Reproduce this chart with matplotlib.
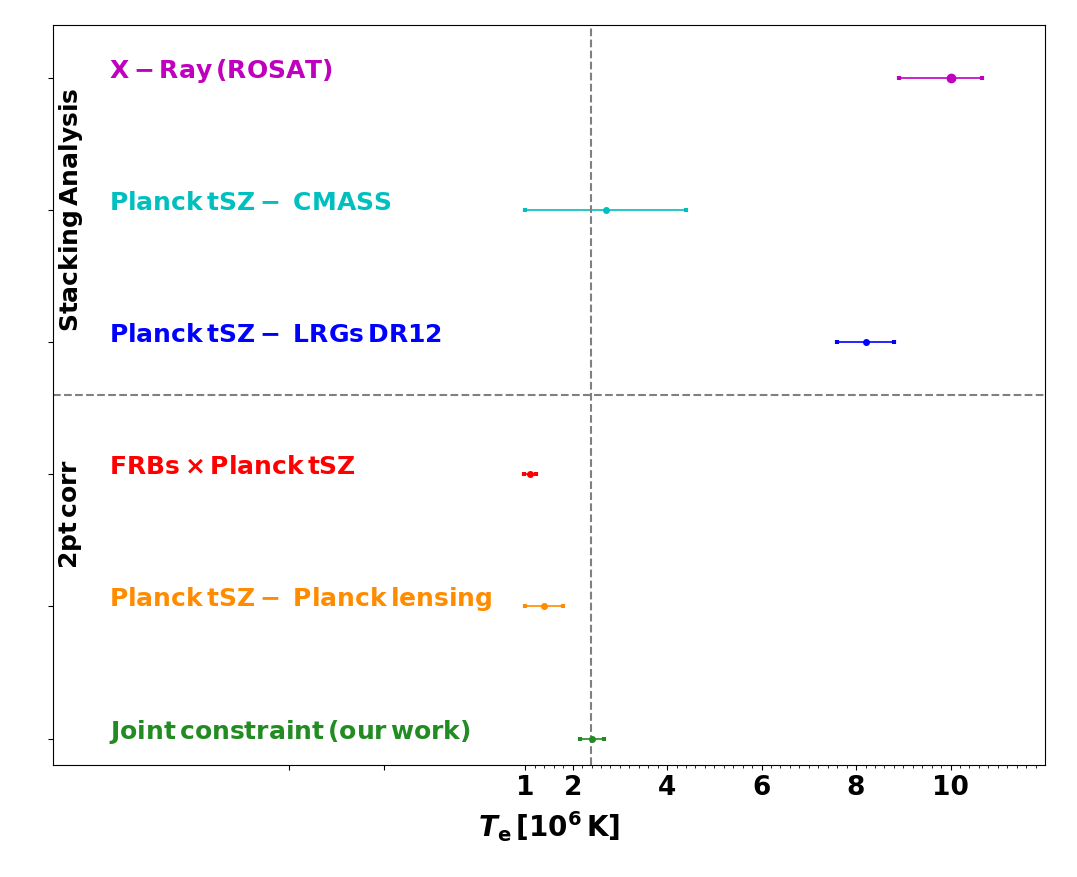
import numpy as np
import matplotlib
matplotlib.use('Agg')
import matplotlib.pyplot as plt

# Electron temperature constraints, in 10^6 K
labels = [r'$\mathbf{Joint\,constraint\,(our\,work)}$',
          r'$\mathbf{Planck\,tSZ-\ Planck\,lensing}$',
          r'$\mathbf{FRBs\times Planck\,tSZ}$',
          r'$\mathbf{Planck\,tSZ-\ LRGs\,DR12}$',
          r'$\mathbf{Planck\,tSZ-\ CMASS}$',
          r'$\mathbf{X-Ray\,(ROSAT)}$']
colors = ['forestgreen', 'darkorange', 'r', 'b', 'c', 'm']
rows = [0, 1, 2, 3, 4, 5]
te = [2.4, 1.4, 1.1, 8.2, 2.7, 10.0]
err_lo = [0.25, 0.4, 0.13, 0.6, 1.7, 1.1]
err_hi = [0.27, 0.4, 0.13, 0.6, 1.7, 0.66]
marker_sizes = [4, 4, 4, 4, 4, 6]

joint_te = 2.39
split_row = 2.6

xticks = [-4, -2, 1, 2, 4, 6, 8, 10]
xtick_labels = ['', '', '1', '2', '4', '6', '8', '10']

fig = plt.figure(figsize=(10.77, 8.77), dpi=100)
ax = fig.add_axes([0.0492, 0.1277, 0.9211, 0.8438])

for i in range(len(rows)):
    ax.errorbar(te[i], rows[i], xerr=[[err_lo[i]], [err_hi[i]]], fmt='o',
                color=colors[i], ms=marker_sizes[i], elinewidth=1.2,
                capsize=1.5, capthick=3)
    ax.text(-7.81, rows[i], labels[i], color=colors[i], fontsize=18)

ax.axvline(joint_te, color='gray', ls='--', lw=1.5)
ax.axhline(split_row, color='gray', ls='--', lw=1.5)

ax.text(0.018, 4.0, r'$\mathbf{Stacking\,Analysis}$', rotation=90,
        ha='center', va='center', fontsize=18,
        transform=ax.get_yaxis_transform())
ax.text(0.018, 1.7, r'$\mathbf{2pt\,corr}$', rotation=90,
        ha='center', va='center', fontsize=18,
        transform=ax.get_yaxis_transform())

ax.set_xlim(-9, 12)
ax.set_ylim(-0.2, 5.4)
ax.set_xticks(xticks)
ax.set_xticklabels(xtick_labels, fontsize=19, fontweight='bold')
ax.set_xticks(np.arange(1, 12, 0.2), minor=True)
ax.set_yticks(rows)
ax.set_yticklabels([])
ax.set_xlabel(r'$\mathbfit{T}_\mathbf{e}\,\mathbf{[10^6\,K]}$', fontsize=20,
              labelpad=6)

fig.savefig('out.png', dpi=100)
